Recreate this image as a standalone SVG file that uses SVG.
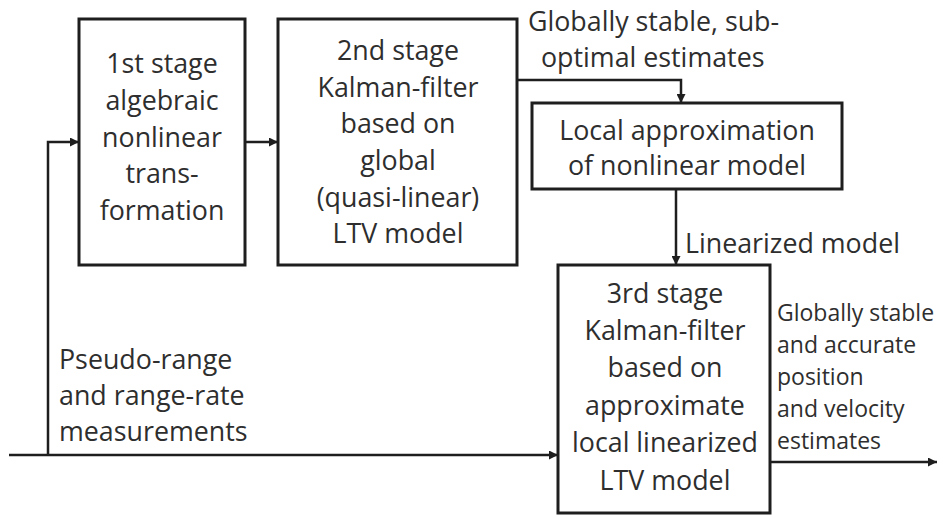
<svg xmlns="http://www.w3.org/2000/svg" width="939" height="515" viewBox="0 0 939 515">
  <style>
    .box { fill: #ffffff; stroke: #1e1e1e; stroke-width: 3; }
    .wire { fill: none; stroke: #1e1e1e; stroke-width: 2.5; }
    .t { font-family: "Open Sans", "Noto Sans", sans-serif; font-size: 26.8px; fill: #2e2e2e; }
    .c { text-anchor: middle; }
    .s { font-size: 23px; }
  </style>
  <defs>
    <marker id="arrow" viewBox="0 0 10 10" refX="10" refY="5" markerWidth="3.6" markerHeight="3.6" markerUnits="strokeWidth" orient="auto">
      <path d="M0,0 L10,5 L0,10 z" fill="#1e1e1e"/>
    </marker>
  </defs>
  <rect width="939" height="515" fill="#ffffff"/>

  <g id="connectors">
    <!-- measurements feed: main line to stage 3, branch up to stage 1 -->
    <path class="wire" d="M9,455 L558,455" marker-end="url(#arrow)"/>
    <path class="wire" d="M48,455 L48,142 L79,142" marker-end="url(#arrow)"/>
    <!-- stage 1 to stage 2 -->
    <path class="wire" d="M245,142 L278,142" marker-end="url(#arrow)"/>
    <!-- stage 2 estimates to local approximation -->
    <path class="wire" d="M517,80 L681,80 L681,103" marker-end="url(#arrow)"/>
    <!-- linearized model to stage 3 -->
    <path class="wire" d="M676,189 L676,265" marker-end="url(#arrow)"/>
    <!-- final estimates output -->
    <path class="wire" d="M770,462 L937,462" marker-end="url(#arrow)"/>
  </g>

  <g id="stage1">
    <rect class="box" x="79" y="19" width="166" height="246"/>
    <text class="t c" x="162" y="73">1st stage</text>
    <text class="t c" x="162" y="110">algebraic</text>
    <text class="t c" x="162" y="147">nonlinear</text>
    <text class="t c" x="162" y="183">trans-</text>
    <text class="t c" x="162" y="220">formation</text>
  </g>

  <g id="stage2">
    <rect class="box" x="278" y="19" width="239" height="246"/>
    <text class="t c" x="398" y="60">2nd stage</text>
    <text class="t c" x="398" y="97">Kalman-filter</text>
    <text class="t c" x="398" y="133">based on</text>
    <text class="t c" x="398" y="170">global</text>
    <text class="t c" x="398" y="207">(quasi-linear)</text>
    <text class="t c" x="398" y="243">LTV model</text>
  </g>

  <g id="local-approx">
    <rect class="box" x="532" y="103" width="310" height="86"/>
    <text class="t c" x="687" y="140">Local approximation</text>
    <text class="t c" x="687" y="175">of nonlinear model</text>
  </g>

  <g id="stage3">
    <rect class="box" x="558" y="265" width="212" height="248"/>
    <text class="t c" x="665" y="303">3rd stage</text>
    <text class="t c" x="665" y="340">Kalman-filter</text>
    <text class="t c" x="665" y="377">based on</text>
    <text class="t c" x="665" y="415">approximate</text>
    <text class="t c" x="665" y="452">local linearized</text>
    <text class="t c" x="665" y="490">LTV model</text>
  </g>

  <g id="labels">
    <text class="t" x="528" y="31">Globally stable, sub-</text>
    <text class="t" x="541" y="67">optimal estimates</text>
    <text class="t" x="685" y="253">Linearized model</text>
    <text class="t" x="59" y="369">Pseudo-range</text>
    <text class="t" x="59" y="405">and range-rate</text>
    <text class="t" x="59" y="441">measurements</text>
    <text class="t s" x="777" y="321">Globally stable</text>
    <text class="t s" x="777" y="353">and accurate</text>
    <text class="t s" x="777" y="385">position</text>
    <text class="t s" x="777" y="417">and velocity</text>
    <text class="t s" x="777" y="449">estimates</text>
  </g>
</svg>
